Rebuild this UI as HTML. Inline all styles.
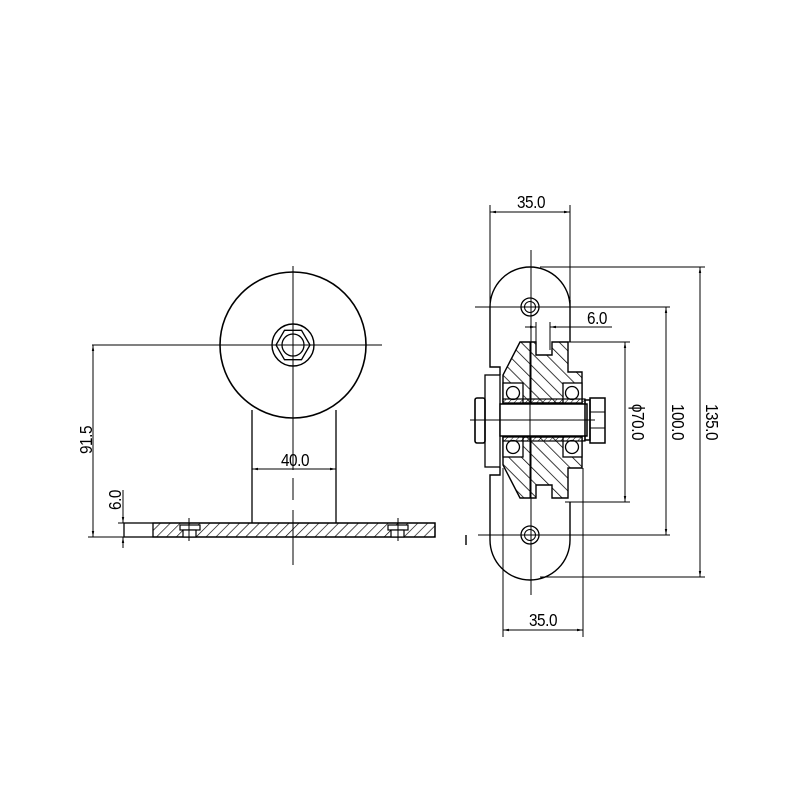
<!DOCTYPE html>
<html><head><meta charset="utf-8"><style>html,body{margin:0;padding:0;background:#fff}svg{display:block}</style></head>
<body>
<svg width="800" height="800" viewBox="0 0 800 800" xmlns="http://www.w3.org/2000/svg" font-family="Liberation Sans, sans-serif">
<defs>
<pattern id="h" width="7" height="7" patternUnits="userSpaceOnUse" patternTransform="rotate(45)">
<line x1="0" y1="0" x2="0" y2="7" stroke="#000" stroke-width="1.3"/>
</pattern>
<pattern id="hs" width="4" height="4" patternUnits="userSpaceOnUse" patternTransform="rotate(45)">
<line x1="0" y1="0" x2="0" y2="4" stroke="#000" stroke-width="1"/>
</pattern>
<pattern id="h2" width="9" height="9" patternUnits="userSpaceOnUse" patternTransform="rotate(-45)">
<line x1="0" y1="0" x2="0" y2="9" stroke="#000" stroke-width="1.5"/>
</pattern>
<marker id="a" viewBox="0 0 10 10" refX="10" refY="5" markerWidth="6" markerHeight="6" orient="auto-start-reverse"><path d="M0,3 L10,5 L0,7z" fill="#000"/></marker>
</defs>
<rect width="800" height="800" fill="#fff"/>
<g stroke="#000" fill="none" stroke-width="1">
<!-- LEFT VIEW -->
<circle cx="293" cy="345" r="73" stroke-width="1.6"/>
<circle cx="293" cy="345" r="21" stroke-width="1.4"/>
<polygon points="310,345 301.5,359.7 284.5,359.7 276,345 284.5,330.3 301.5,330.3" stroke-width="1.3"/>
<circle cx="293" cy="345" r="11" stroke-width="1.3"/>
<line x1="293" y1="266" x2="293" y2="470"/>
<line x1="293" y1="478" x2="293" y2="500" />
<line x1="293" y1="510" x2="293" y2="565"/>
<line x1="92" y1="345" x2="382" y2="345"/>
<line x1="252" y1="410" x2="252" y2="523" stroke-width="1.3"/>
<line x1="336" y1="410" x2="336" y2="523" stroke-width="1.3"/>
<line x1="252" y1="469" x2="336" y2="469" marker-start="url(#a)" marker-end="url(#a)"/>
<rect x="124" y="523" width="311" height="14" stroke-width="1.3"/>
<rect x="153" y="523" width="282" height="14" fill="url(#h)" stroke-width="1.3"/>
<g fill="#fff" stroke-width="1.2">
<rect x="180" y="525" width="20" height="5"/><rect x="183" y="530" width="13" height="7"/>
<rect x="388" y="525" width="20" height="5"/><rect x="391" y="530" width="13" height="7"/>
</g>
<line x1="189" y1="518" x2="189" y2="541"/><line x1="180" y1="530" x2="198" y2="530"/>
<line x1="398" y1="518" x2="398" y2="541"/><line x1="389" y1="530" x2="407" y2="530"/>
<line x1="93" y1="345" x2="93" y2="537" marker-start="url(#a)" marker-end="url(#a)"/>
<line x1="88" y1="537" x2="124" y2="537"/>
<line x1="123" y1="490" x2="123" y2="523" marker-end="url(#a)"/>
<line x1="123" y1="537" x2="123" y2="548" marker-start="url(#a)"/>
<line x1="118" y1="523" x2="124" y2="523"/>

<!-- RIGHT VIEW plate -->
<path d="M570,300 L570,342 M570,502 L570,540 A40,40 0 0 1 490,540 L490,475 L500,475 L500,467 M500,375 L500,367 L490,367 L490,307 A40,40 0 0 1 570,307" stroke-width="1.4"/>
<circle cx="530" cy="307" r="9" stroke-width="1.3"/><circle cx="530" cy="307" r="5.5"/>
<circle cx="530" cy="535" r="9" stroke-width="1.3"/><circle cx="530" cy="535" r="5.5"/>
<line x1="531" y1="250" x2="531" y2="595"/>
<line x1="475" y1="307" x2="670" y2="307"/>
<line x1="478" y1="535" x2="670" y2="535"/>
<line x1="466" y1="535" x2="466" y2="545" stroke-width="1.4"/>
<!-- washer + bolt -->
<rect x="485" y="375" width="15" height="92" stroke-width="1.3" fill="#fff"/>
<rect x="475" y="398" width="10" height="45" rx="2" stroke-width="1.6"/>
<!-- wheel -->
<path d="M520,342 L536,342 L536,355 L552,355 L552,342 L568,342 L568,372 L582,372 L582,403 L503,403 L503,375 Z" fill="url(#h2)" stroke-width="1.4"/>
<path d="M520,498 L536,498 L536,485 L552,485 L552,498 L568,498 L568,468 L582,468 L582,437 L503,437 L503,465 Z" fill="url(#h2)" stroke-width="1.4"/>
<g fill="#fff" stroke-width="1.3">
<rect x="503" y="383" width="20" height="20"/><rect x="563" y="383" width="19" height="20"/>
<rect x="503" y="437" width="20" height="20"/><rect x="563" y="437" width="19" height="20"/>
</g>
<circle cx="513" cy="393" r="6.5" stroke-width="1.3"/><circle cx="572" cy="393" r="6.5" stroke-width="1.3"/>
<circle cx="513" cy="447" r="6.5" stroke-width="1.3"/><circle cx="572" cy="447" r="6.5" stroke-width="1.3"/>
<!-- sleeve -->
<rect x="503" y="399" width="82" height="5" fill="url(#hs)" stroke-width="1.2"/>
<rect x="503" y="436" width="82" height="5" fill="url(#hs)" stroke-width="1.2"/>
<!-- axle -->
<rect x="500" y="404" width="87" height="32" fill="#fff" stroke-width="1.5"/>
<rect x="585" y="400" width="5" height="40" stroke-width="1.5"/>
<rect x="590" y="398" width="15" height="45" stroke-width="1.5"/>
<line x1="590" y1="412" x2="605" y2="412"/><line x1="590" y1="428" x2="605" y2="428"/>
<line x1="470" y1="420" x2="595" y2="420"/>
<line x1="530" y1="342" x2="530" y2="498"/>
<!-- dims right -->
<line x1="490" y1="205" x2="490" y2="367"/>
<line x1="570" y1="205" x2="570" y2="300"/>
<line x1="490" y1="212" x2="570" y2="212" marker-start="url(#a)" marker-end="url(#a)"/>
<line x1="503" y1="468" x2="503" y2="637"/>
<line x1="583" y1="468" x2="583" y2="637"/>
<line x1="503" y1="630" x2="583" y2="630" marker-start="url(#a)" marker-end="url(#a)"/>
<line x1="540" y1="267" x2="705" y2="267"/>
<line x1="540" y1="577" x2="705" y2="577"/>
<line x1="700" y1="267" x2="700" y2="577" marker-start="url(#a)" marker-end="url(#a)"/>
<line x1="666" y1="307" x2="666" y2="535" marker-start="url(#a)" marker-end="url(#a)"/>
<line x1="565" y1="342" x2="630" y2="342"/>
<line x1="565" y1="502" x2="630" y2="502"/>
<line x1="625" y1="342" x2="625" y2="502" marker-start="url(#a)" marker-end="url(#a)"/>
<line x1="536" y1="322" x2="536" y2="350"/>
<line x1="550" y1="322" x2="550" y2="350"/>
<line x1="525" y1="327" x2="536" y2="327" marker-end="url(#a)"/>
<line x1="550" y1="327" x2="612" y2="327" marker-start="url(#a)"/>
</g>
<g font-size="18" fill="#000" style="letter-spacing:-0.5px">
<text x="295" y="466" text-anchor="middle" transform="translate(295,0) scale(0.85,1) translate(-295,0)">40.0</text>
<text transform="translate(92,440) rotate(-90) scale(0.85,1)" text-anchor="middle">91.5</text>
<text transform="translate(121,500) rotate(-90) scale(0.85,1)" text-anchor="middle">6.0</text>
<text transform="translate(531,208) scale(0.85,1)" text-anchor="middle">35.0</text>
<text transform="translate(543,626) scale(0.85,1)" text-anchor="middle">35.0</text>
<text transform="translate(597,324) scale(0.85,1)" text-anchor="middle">6.0</text>
<text transform="translate(632,422) rotate(90) scale(0.85,1)" text-anchor="middle">ϕ70.0</text>
<text transform="translate(672,422) rotate(90) scale(0.85,1)" text-anchor="middle">100.0</text>
<text transform="translate(706,422) rotate(90) scale(0.85,1)" text-anchor="middle">135.0</text>
</g>
</svg>
</body></html>
